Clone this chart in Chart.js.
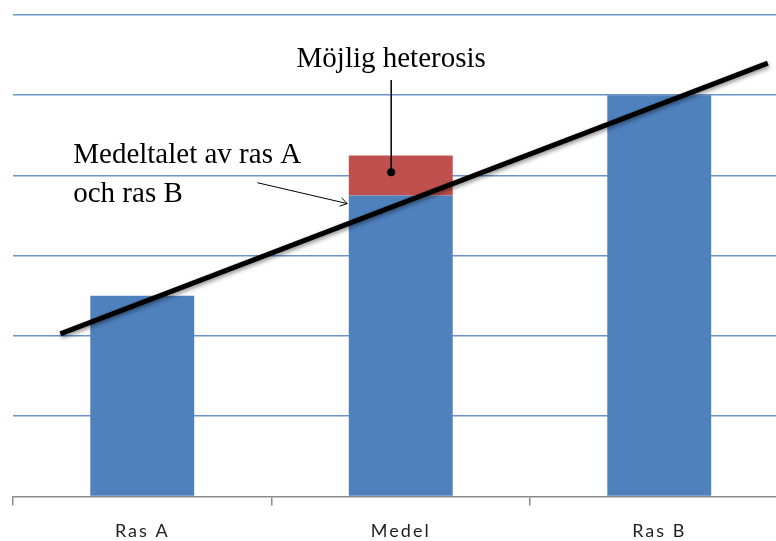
<!DOCTYPE html>
<html>
<head>
<meta charset="utf-8">
<script src="https://cdn.jsdelivr.net/npm/chart.js@4/dist/chart.umd.min.js"></script>
<style>
html,body{margin:0;padding:0;overflow:hidden;background:#fff;width:776px;height:541px}
#wrap{width:800px;height:541px}
</style>
</head>
<body>
<div id="wrap"><canvas id="c" width="800" height="541"></canvas></div>
<script>
// ---- data ----
const categories = ['Ras A', 'Medel', 'Ras B'];
const baseValues = [2.5, 3.75, 5];
const heterosisValues = [0, 0.5, 0];
// trend line end points, x in category-index units
const trendX = [-0.317, 2.42];
const trendY = [2.025, 5.4];
const yMin = 0, yMax = 6, yStep = 1;

// annotation anchors (data coordinates, x in category-index units)
const heterosisLabel = 'Möjlig heterosis';
const meanLabelLines = ['Medeltalet av ras A', 'och ras B'];
const notes = {
  hetText: {x: 0.963, y: 5.35},
  hetLineTop: 5.19,
  hetDot: {x: 0.963, y: 4.04},
  meanText: {x: -0.267, y: [4.15, 3.675]},
  arrowFrom: {x: 0.445, y: 3.91},
  arrowTo: {x: 0.793, y: 3.65}
};

const gridBlue = '#6a93cb';
const axisGray = '#8c8c8c';

const shadowPlugin = {
  id: 'lineShadow',
  beforeDatasetDraw(chart, args) {
    if (args.meta.type === 'line') {
      const ctx = chart.ctx;
      ctx.save();
      ctx.shadowColor = 'rgba(0,0,0,0.45)';
      ctx.shadowBlur = 4;
      ctx.shadowOffsetX = 1;
      ctx.shadowOffsetY = 2;
    }
  },
  afterDatasetDraw(chart, args) {
    if (args.meta.type === 'line') chart.ctx.restore();
  }
};

const spacingPlugin = {
  id: 'spacing',
  beforeDraw(chart) { chart.ctx.letterSpacing = '2px'; },
  afterDatasetsDraw(chart) { chart.ctx.letterSpacing = '0px'; }
};

const notesPlugin = {
  id: 'notes',
  afterDraw(chart) {
    const {ctx} = chart;
    const xs = chart.scales.x, ys = chart.scales.y;
    const px = v => xs.getPixelForValue(v);
    const py = v => ys.getPixelForValue(v);
    ctx.save();
    ctx.letterSpacing = '0px';
    ctx.fillStyle = '#000';
    ctx.strokeStyle = '#000';
    ctx.font = '29px "Liberation Serif", "Times New Roman", serif';
    ctx.textBaseline = 'alphabetic';
    // heterosis label
    ctx.textAlign = 'center';
    ctx.fillText(heterosisLabel, px(notes.hetText.x), py(notes.hetText.y));
    ctx.lineWidth = 1.5;
    ctx.beginPath();
    ctx.moveTo(px(notes.hetDot.x), py(notes.hetLineTop));
    ctx.lineTo(px(notes.hetDot.x), py(notes.hetDot.y));
    ctx.stroke();
    ctx.beginPath();
    ctx.arc(px(notes.hetDot.x), py(notes.hetDot.y), 4, 0, Math.PI * 2);
    ctx.fill();
    // mean label
    ctx.textAlign = 'left';
    meanLabelLines.forEach((t, i) => {
      ctx.fillText(t, px(notes.meanText.x), py(notes.meanText.y[i]));
    });
    // arrow
    const x1 = px(notes.arrowFrom.x), y1 = py(notes.arrowFrom.y);
    const x2 = px(notes.arrowTo.x), y2 = py(notes.arrowTo.y);
    ctx.lineWidth = 1;
    ctx.beginPath();
    ctx.moveTo(x1, y1);
    ctx.lineTo(x2, y2);
    ctx.stroke();
    const a = Math.atan2(y2 - y1, x2 - x1);
    const L = 8, w = 0.55;
    ctx.beginPath();
    ctx.moveTo(x2 - L * Math.cos(a - w), y2 - L * Math.sin(a - w));
    ctx.lineTo(x2, y2);
    ctx.lineTo(x2 - L * Math.cos(a + w), y2 - L * Math.sin(a + w));
    ctx.stroke();
    ctx.restore();
  }
};

new Chart(document.getElementById('c'), {
  type: 'bar',
  data: {
    labels: categories,
    datasets: [
      {
        label: 'Bas',
        data: baseValues,
        backgroundColor: '#4f81bd',
        stack: 's',
        grouped: false,
        order: 1,
        categoryPercentage: 1,
        barPercentage: 0.402
      },
      {
        label: 'Heterosis',
        data: heterosisValues,
        backgroundColor: '#c0504d',
        stack: 's',
        grouped: false,
        order: 1,
        categoryPercentage: 1,
        barPercentage: 0.402
      },
      {
        type: 'line',
        label: 'Trend',
        parsing: false,
        normalized: true,
        data: trendX.map((v, i) => ({x: v, y: trendY[i]})),
        borderColor: '#000',
        borderWidth: 5,
        pointRadius: 0,
        fill: false,
        order: -1
      }
    ]
  },
  options: {
    responsive: false,
    animation: false,
    events: [],
    layout: {padding: {left: 13, right: 11.5, top: 15, bottom: -16}},
    plugins: {legend: {display: false}, tooltip: {enabled: false}},
    scales: {
      x: {
        stacked: true,
        offset: true,
        min: 0,
        max: 2,
        grid: {
          offset: true,
          drawOnChartArea: false,
          drawTicks: true,
          tickLength: 9,
          color: axisGray,
          lineWidth: 1.5
        },
        border: {color: axisGray, width: 1.5},
        ticks: {
          color: '#1f1f1f',
          font: {family: 'Lato, "Open Sans", sans-serif', size: 18},
          padding: 15,
          maxRotation: 0
        }
      },
      y: {
        stacked: true,
        min: yMin,
        max: yMax,
        ticks: {display: false, stepSize: yStep},
        grid: {
          drawTicks: false,
          color: c => c.tick && c.tick.value === 0 ? 'rgba(0,0,0,0)' : gridBlue,
          lineWidth: 1.5
        },
        border: {display: false}
      }
    }
  },
  plugins: [spacingPlugin, shadowPlugin, notesPlugin]
});
</script>
</body>
</html>
